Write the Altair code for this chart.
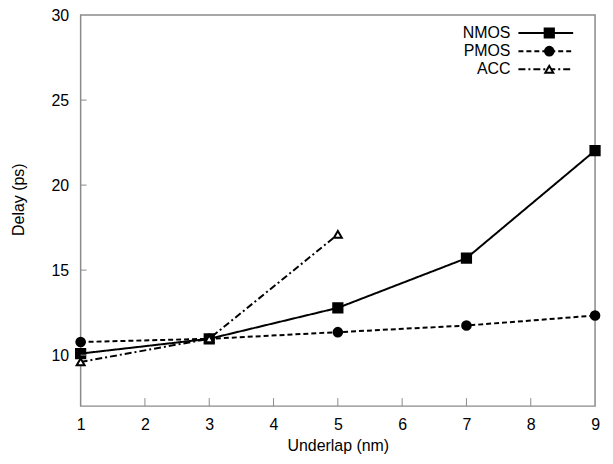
import altair as alt
import pandas as pd

# ---- data ----
underlap = [1, 3, 5, 7, 9]
nmos = [10.09, 10.96, 12.78, 15.70, 22.03]
pmos = [10.77, 10.96, 11.35, 11.74, 12.33]
acc_x = [1, 3, 5]
acc = [9.60, 10.96, 17.10]
series = ["NMOS", "PMOS", "ACC"]
x_ticks = [2, 3, 4, 5, 6, 7, 8]
y_ticks = [10, 15, 20, 25]

rows = []
for x, v in zip(underlap, nmos):
    rows.append({"x": x, "v": v, "s": "NMOS"})
for x, v in zip(underlap, pmos):
    rows.append({"x": x, "v": v, "s": "PMOS"})
for x, v in zip(acc_x, acc):
    rows.append({"x": x, "v": v, "s": "ACC"})
df = pd.DataFrame(rows)

W, H = 517, 393
FONT = "Liberation Sans"
GRAY = "#8a8a8a"

xs = alt.Scale(domain=[1, 9], nice=False, zero=False)
ys = alt.Scale(domain=[7, 30], nice=False, zero=False)
dash = alt.StrokeDash("s:N", scale=alt.Scale(domain=series, range=[[1, 0], [5, 3], [7, 3, 2, 3]]), legend=None)
shape = alt.Shape("s:N", scale=alt.Scale(domain=series, range=["square", "circle", "triangle-up"]), legend=None)
fill = alt.Fill("s:N", scale=alt.Scale(domain=series, range=["black", "black", "white"]), legend=None)
size = alt.Size("s:N", scale=alt.Scale(domain=series, range=[86, 64, 110]), legend=None)

xaxis = alt.Axis(
    title="Underlap (nm)", values=underlap + [2, 4, 6, 8], format="d",
    ticks=False, domain=False, grid=False, labelPadding=10, labelFlush=False,
    titleY=45, titleBaseline="alphabetic")
yaxis = alt.Axis(
    title="Delay (ps)", values=y_ticks + [30], ticks=False, domain=False,
    grid=False, labelPadding=12, labelFlush=False, titleX=-57, titleY=185,
    titleBaseline="alphabetic", titleAngle=-90)

lines = alt.Chart(df).mark_line(color="black", strokeWidth=2).encode(
    x=alt.X("x:Q", scale=xs, axis=xaxis),
    y=alt.Y("v:Q", scale=ys, axis=yaxis),
    strokeDash=dash,
    detail="s:N",
)

points = alt.Chart(df).mark_point(filled=True, stroke="black", strokeWidth=2, opacity=1).encode(
    x=alt.X("x:Q", scale=xs, axis=None),
    y=alt.Y("v:Q", scale=ys, axis=None),
    shape=shape, fill=fill, size=size,
)

xt = alt.Chart(pd.DataFrame({"t": x_ticks})).mark_rule(color=GRAY, strokeWidth=1).encode(
    x=alt.X("t:Q", scale=xs, axis=None), y=alt.value(H), y2=alt.value(H - 8))
yt = alt.Chart(pd.DataFrame({"t": y_ticks})).mark_rule(color=GRAY, strokeWidth=1).encode(
    y=alt.Y("t:Q", scale=ys, axis=None), x=alt.value(0), x2=alt.value(6))

leg = pd.DataFrame({"s": series, "i": [0, 1, 2]})
ly = alt.Y("i:Q", scale=alt.Scale(domain=[0, 2], range=[18, 54.5], nice=False, zero=False), axis=None)
leg_line = alt.Chart(leg).mark_rule(color="black", strokeWidth=2).encode(
    y=ly, x=alt.value(440), x2=alt.value(495), strokeDash=dash)
leg_pt = alt.Chart(leg).mark_point(filled=True, stroke="black", strokeWidth=2, opacity=1).encode(
    y=ly, x=alt.value(471), shape=shape, fill=fill, size=size)
leg_txt = alt.Chart(leg).mark_text(align="right", baseline="middle", font=FONT, fontSize=16, color="black").encode(
    y=ly, x=alt.value(432), text="s:N")

chart = alt.layer(lines, points, xt, yt, leg_line, leg_pt, leg_txt).resolve_scale(
    y="independent", x="independent"
).properties(
    width=W, height=H,
    autosize=alt.AutoSizeParams(type="none"),
    padding={"left": 73, "top": 6, "right": 10, "bottom": 48},
).configure_view(
    stroke=GRAY, strokeWidth=1.5
).configure_axis(
    labelFont=FONT, titleFont=FONT, labelFontSize=16, titleFontSize=16,
    labelColor="black", titleColor="black", titleFontWeight="normal",
)

chart.save("out.html", embed_options={"renderer": "svg", "actions": False})
